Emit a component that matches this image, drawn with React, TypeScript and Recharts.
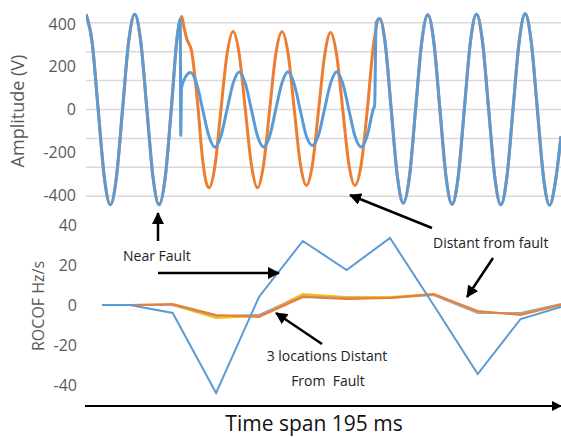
import { LineChart, Line, XAxis, YAxis, CartesianGrid } from "recharts";

// time in ms, voltage in V
const preFaultT = [0, 2.5, 5, 7.5, 10, 12.5, 15, 17.5, 20, 22.5, 25, 27.5, 30, 32.5, 35, 37.5];
const preFaultV = [445, 315, 0, -315, -445, -315, 0, 315, 445, 315, 0, -315, -445, -320, 0, 345];

const blueFaultT = [
  38.7, 38.9, 39.2, 40.3, 42.9, 45.4, 47.9, 50.4, 52.9, 55.4, 57.9, 60.4, 62.9, 65.4, 67.9, 70.4,
  72.9, 75.4, 77.9, 80.4, 82.9, 85.4, 87.9, 90.4, 92.9, 95.4, 97.9, 100.4, 102.9, 105.4, 107.9,
  110.4, 112.9, 115.4, 117.9, 118.5, 119.1, 120.5,
];
const blueFaultV = [
  420, -122, 100, 140, 173, 122, 0, -122, -176, -124, 0, 122, 175, 122, 0, -124,
  -175, -124, 0, 122, 176, 122, 0, -122, -168, -122, 0, 122, 176, 122, 0,
  -124, -175, -124, 0, 20, 405, 425,
];

const orangeFaultT = [
  39.3, 40.3, 41.3, 43.4, 44.7, 46.1, 47.5, 49.2, 50.5, 53, 55.4, 57.9, 60.4, 62.9, 65.4, 67.9,
  70.4, 72.9, 75.4, 77.9, 80.5, 83, 85.5, 88, 90.5, 93, 95.5, 98, 100.4, 102.9, 105.4, 107.9,
  110.4, 113, 115.5, 118, 120.6,
];
const orangeFaultV = [
  434, 380, 332, 270, 152, -5, -193, -334, -366, -258, 0, 258, 364, 258, 0, -258,
  -366, -258, 0, 258, 363, 258, 0, -255, -355, -255, 0, 255, 360, 255, 0, -255,
  -355, -255, 0, 300, 425,
];

const postFaultT = [
  122.8, 125.3, 127.8, 130.3, 132.8, 135.3, 137.8, 140.3, 142.8, 145.3, 147.8, 150.3, 152.8,
  155.3, 157.8, 160.3, 162.8, 165.3, 167.8, 170.3, 172.8, 175.3, 177.8, 180.3, 182.8, 185.3,
  187.8, 190.3, 192.8, 195,
];
const postFaultV = [
  312, 0, -310, -437, -312, 0, 312, 442, 314, 0, -314, -442, -314,
  0, 314, 445, 314, 0, -314, -445, -314, 0, 314, 447, 314, 0,
  -314, -447, -330, -125,
];

const ampTicks = [-400, -200, 0, 200, 400];
const ampGrid = [-405, -270, -135, 0, 135, 270, 405];

// ROCOF, Hz/s
const rocofT = [6.6, 18, 35.6, 53.4, 71, 89, 107, 124.8, 142.7, 160.8, 178.4, 195];
const rocofNear = [0, 0, -4, -44, 4, 32, 17.5, 33.5, 0, -34.5, -7, -1];
const rocofOrange = [0, 0, 0.5, -5, -6, 4, 3, 3.5, 5.5, -3, -5, 0];
const rocofGray = [0, 0, 0, -5.5, -5, 4.5, 3.5, 3.5, 5, -4, -4, 0.5];
const rocofYellow = [0, 0, 0, -6.5, -5.5, 5.5, 4, 4, 5.5, -3.5, -4.5, 0];
const rocofTicks = [-40, -20, 0, 20, 40];

const zip = (t: number[], v: number[]) => t.map((x, i) => ({ t: x, v: v[i] }));

const orangeWave = zip(
  [...preFaultT, ...orangeFaultT, ...postFaultT],
  [...preFaultV, ...orangeFaultV, ...postFaultV]
);
const blueWave = zip(
  [...preFaultT, ...blueFaultT, ...postFaultT],
  [...preFaultV, ...blueFaultV, ...postFaultV]
);

const font = "'Open Sans', sans-serif";
const tickStyle = { fontSize: 16, fill: "#595959", fontFamily: font };

export default function App() {
  return (
    <div style={{ position: "absolute", left: 0, top: 0, width: 561, height: 437, background: "#fff" }}>
      <div style={{ position: "absolute", left: 0, top: 0 }}>
        <LineChart width={561} height={215} margin={{ top: 11, right: 0, bottom: 7, left: 0 }}>
          <CartesianGrid horizontalValues={ampGrid} vertical={false} stroke="#D9D9D9" strokeWidth={1.5} />
          <XAxis type="number" dataKey="t" domain={[0, 195]} hide allowDataOverflow />
          <YAxis
            type="number"
            domain={[-460, 460]}
            ticks={ampTicks}
            width={86}
            axisLine={false}
            tickLine={false}
            tickMargin={4}
            tick={tickStyle}
          />
          <Line data={orangeWave} dataKey="v" type="monotone" stroke="#ED7D31" strokeWidth={3} dot={false} isAnimationActive={false} />
          <Line data={blueWave} dataKey="v" type="monotone" stroke="#5B9BD5" strokeWidth={3} dot={false} isAnimationActive={false} />
        </LineChart>
      </div>
      <div style={{ position: "absolute", left: 0, top: 215 }}>
        <LineChart width={561} height={190} margin={{ top: 6, right: 0, bottom: 8, left: 0 }}>
          <XAxis type="number" dataKey="t" domain={[0, 195]} hide allowDataOverflow />
          <YAxis
            type="number"
            domain={[-46, 42]}
            ticks={rocofTicks}
            width={86}
            axisLine={false}
            tickLine={false}
            tickMargin={3}
            tick={tickStyle}
          />
          <Line data={zip(rocofT, rocofYellow)} dataKey="v" stroke="#FFC000" strokeWidth={2} dot={false} isAnimationActive={false} />
          <Line data={zip(rocofT, rocofGray)} dataKey="v" stroke="#A5A5A5" strokeWidth={2} dot={false} isAnimationActive={false} />
          <Line data={zip(rocofT, rocofOrange)} dataKey="v" stroke="#ED7D31" strokeWidth={2} dot={false} isAnimationActive={false} />
          <Line data={zip(rocofT, rocofNear)} dataKey="v" stroke="#5B9BD5" strokeWidth={2} dot={false} isAnimationActive={false} />
        </LineChart>
      </div>
      <svg width={561} height={437} style={{ position: "absolute", left: 0, top: 0, pointerEvents: "none" }}>
        <defs>
          <marker id="head" markerWidth="12" markerHeight="12" refX="11" refY="6" orient="auto" markerUnits="userSpaceOnUse">
            <path d="M0,0 L12,6 L0,12 z" fill="#000" />
          </marker>
          <marker id="headSmall" markerWidth="10" markerHeight="10" refX="9" refY="5" orient="auto" markerUnits="userSpaceOnUse">
            <path d="M0,0 L10,5 L0,10 z" fill="#000" />
          </marker>
        </defs>
        <text transform="translate(24,111) rotate(-90)" textAnchor="middle" fontSize={18} fill="#595959" fontFamily={font}>
          Amplitude (V)
        </text>
        <text transform="translate(44,306) rotate(-90)" textAnchor="middle" fontSize={16} fill="#595959" fontFamily={font}>
          ROCOF Hz/s
        </text>

        <line x1={158} y1={241} x2={158} y2={213} stroke="#000" strokeWidth={2.5} markerEnd="url(#head)" />
        <line x1={158} y1={273} x2={279} y2={273} stroke="#000" strokeWidth={2.5} markerEnd="url(#head)" />
        <line x1={432} y1={228} x2={350} y2={195} stroke="#000" strokeWidth={2.5} markerEnd="url(#head)" />
        <line x1={493} y1={258} x2={467} y2={297} stroke="#000" strokeWidth={2.5} markerEnd="url(#head)" />
        <line x1={322} y1={344} x2={276} y2={313} stroke="#000" strokeWidth={2.5} markerEnd="url(#head)" />
        <line x1={85} y1={406} x2={561} y2={406} stroke="#000" strokeWidth={2} markerEnd="url(#headSmall)" />

        <text x={123} y={261} fontSize={14} fill="#222" fontFamily={font}>Near Fault</text>
        <text x={433} y={248} fontSize={14} fill="#222" fontFamily={font}>Distant from fault</text>
        <text x={327} y={361} textAnchor="middle" fontSize={14} fill="#222" fontFamily={font}>3 locations Distant</text>
        <text x={328} y={386} textAnchor="middle" fontSize={14} fill="#222" fontFamily={font} style={{ whiteSpace: "pre" }}>
          {"From  Fault"}
        </text>
        <text x={314} y={431} textAnchor="middle" fontSize={21} fill="#111" fontFamily={font}>Time span 195 ms</text>
      </svg>
    </div>
  );
}
